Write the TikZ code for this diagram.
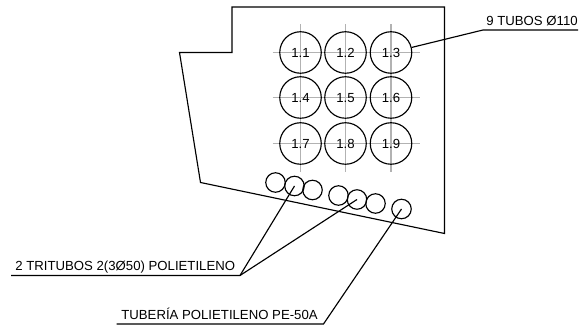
\documentclass[tikz,border=0pt]{standalone}
\usepackage{fontspec}
\setmainfont{Liberation Sans}
\tikzset{
  tubo/.style={draw,circle,line width=.65pt,minimum size=.83cm,inner sep=0pt,text height=5.4pt,text depth=0pt,font=\fontsize{7.5}{9}\selectfont},
  tritubo/.style={draw,circle,line width=.65pt,minimum size=.39cm,inner sep=0pt},
  rotulo/.style={anchor=base west,inner sep=0pt,font=\fontsize{7.5}{9}\selectfont},
  eje/.style={gray!60,line width=.8pt},
  linea/.style={line width=.65pt}
}
\begin{document}
\begin{tikzpicture}
        \useasboundingbox (0,0) rectangle (11.58,6.62);
        %contorno
        \draw[linea] (3.59,5.57) -- (4.64,5.57) -- (4.64,6.48) -- (8.89,6.48) -- (8.89,1.95) -- (4.01,2.97) -- cycle;
        %ejes
        \foreach \x in {6.01,6.91,7.82} \draw[eje] (\x,3.18) -- (\x,6.14);
        \foreach \y in {5.57,4.67,3.75} \draw[eje] (5.45,\y) -- (8.39,\y);
        %tubos
        \node[tubo] (T1) at (6.01,5.57) {1.1};
        \node[tubo] (T2) at (6.91,5.57) {1.2};
        \node[tubo] (T3) at (7.82,5.57) {1.3};
        \node[tubo] (T4) at (6.01,4.67) {1.4};
        \node[tubo] (T5) at (6.91,4.67) {1.5};
        \node[tubo] (T6) at (7.82,4.67) {1.6};
        \node[tubo] (T7) at (6.01,3.75) {1.7};
        \node[tubo] (T8) at (6.91,3.75) {1.8};
        \node[tubo] (T9) at (7.82,3.75) {1.9};
        %tritubos
        \node[tritubo] (A1) at (5.51,2.97) {};
        \node[tritubo] (A2) at (5.89,2.90) {};
        \node[tritubo] (A3) at (6.25,2.82) {};
        \node[tritubo] (B1) at (6.77,2.71) {};
        \node[tritubo] (B2) at (7.14,2.63) {};
        \node[tritubo] (B3) at (7.51,2.55) {};
        \node[tritubo] (PE) at (8.03,2.44) {};
        %rotulos
        \node[rotulo] (R9) at (9.72,6.10) {9 TUBOS Ø110};
        \node[rotulo] (R2) at (0.30,1.20) {2 TRITUBOS 2(3Ø50) POLIETILENO};
        \node[rotulo] (RP) at (2.42,0.22) {TUBERÍA POLIETILENO PE-50A};
        \coordinate (C9a) at (9.66,6.02);
        \coordinate (C9b) at (11.56,6.02);
        \coordinate (C2a) at (0.22,1.11);
        \coordinate (C2b) at (4.80,1.11);
        \coordinate (CPa) at (2.33,0.14);
        \coordinate (CPb) at (6.47,0.14);
        \draw[linea] (T3) -- (C9a) -- (C9b);
        \draw[linea] (A2.center) -- (C2b) -- (C2a);
        \draw[linea] (B2.center) -- (C2b);
        \draw[linea] (PE.center) -- (CPb) -- (CPa);
\end{tikzpicture}
\end{document}
